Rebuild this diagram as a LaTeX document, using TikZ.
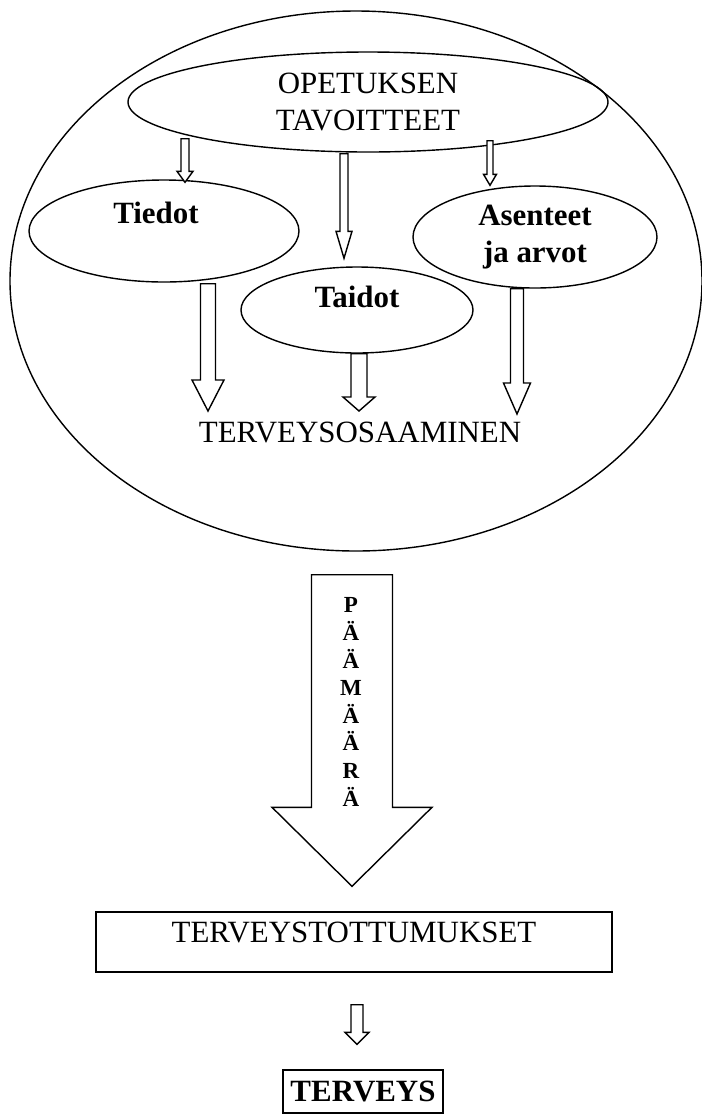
\documentclass[tikz,border=0pt]{standalone}
\usepackage{fontspec}
\setmainfont{Liberation Serif}
\usetikzlibrary{calc,shapes.geometric}

\tikzset{
  kehys/.style={draw,ellipse,inner sep=0pt,line width=0.8pt},
  laatikko/.style={draw,rectangle,inner sep=0pt,line width=0.8pt},
  iso/.style={font=\fontsize{17.6}{21}\selectfont,align=center,inner sep=0pt},
  lihava/.style={font=\bfseries\fontsize{17.6}{21}\selectfont,align=center,inner sep=0pt},
  nuoli/.style={draw,line width=0.8pt,fill=white,line join=miter},
}
% hollow block arrow: start, tip, half shaft, half head, head length
\newcommand{\blocknuoli}[5]{%
  \draw[nuoli] let \p1=#1, \p2=#2 in
    (\x1-#3,\y1) -- (\x1-#3,\y2+#5) -- (\x1-#4,\y2+#5) -- (\x1,\y2)
    -- (\x1+#4,\y2+#5) -- (\x1+#3,\y2+#5) -- (\x1+#3,\y1) -- cycle;}

\begin{document}
\begin{tikzpicture}
    \useasboundingbox (0,0) rectangle (14.02,-22.3);
    \node[kehys,minimum width=13.84cm,minimum height=10.8cm] (ulko) at (7.12,-5.62) {};
    \node[kehys,minimum width=9.6cm,minimum height=2cm,iso] (opet) at (7.36,-2.04) {OPETUKSEN\\TAVOITTEET};
    \node[kehys,minimum width=5.4cm,minimum height=2.04cm] (tiedot) at (3.28,-4.62) {};
    \node[lihava] (tiedotT) at ($(tiedot)+(-0.16,0.36)$) {Tiedot};
    \node[kehys,minimum width=4.64cm,minimum height=1.72cm] (taidot) at (7.14,-6.2) {};
    \node[lihava] (taidotT) at ($(taidot)+(0,0.26)$) {Taidot};
    \node[kehys,minimum width=4.88cm,minimum height=2.04cm,lihava,inner sep=0pt] (asenteet) at (10.7,-4.74) {Asenteet\\ja arvot};
    \node[iso] (osaam) at (7.2,-8.64) {TERVEYSOSAAMINEN};
    \node[laatikko,minimum width=10.32cm,minimum height=1.2cm] (tottum) at (7.08,-18.84) {};
    \node[iso] (tottumT) at ($(tottum)+(0,0.2)$) {TERVEYSTOTTUMUKSET};
    \node[laatikko,minimum width=3.2cm,minimum height=0.86cm,lihava] (terveys) at (7.26,-21.83) {TERVEYS};
    % nuolet
    \blocknuoli{($(opet.south)+(-3.66,0.28)$)}{($(tiedot.north)+(0.42,-0.06)$)}{0.08cm}{0.16cm}{0.22cm}
    \blocknuoli{($(opet.south)+(-0.48,-0.02)$)}{($(taidot.north)+(-0.26,0.16)$)}{0.08cm}{0.16cm}{0.54cm}
    \blocknuoli{($(opet.south)+(2.44,0.24)$)}{($(asenteet.north)+(-0.9,0)$)}{0.06cm}{0.13cm}{0.22cm}
    \blocknuoli{($(tiedot.south)+(0.88,-0.02)$)}{($(osaam)+(-3.04,0.42)$)}{0.15cm}{0.32cm}{0.62cm}
    \blocknuoli{($(taidot.south)+(0.04,0)$)}{($(osaam)+(-0.02,0.42)$)}{0.16cm}{0.32cm}{0.28cm}
    \blocknuoli{($(asenteet.south)+(-0.36,0)$)}{($(osaam)+(3.14,0.36)$)}{0.13cm}{0.27cm}{0.62cm}
    \blocknuoli{($(ulko.south)+(-0.08,-0.46)$)}{($(tottum.north)+(-0.04,0.5)$)}{0.81cm}{1.6cm}{1.58cm}
    \blocknuoli{($(tottum.south)+(0.06,-0.64)$)}{($(terveys.north)+(-0.12,0.5)$)}{0.12cm}{0.24cm}{0.24cm}
    \node[font=\bfseries\fontsize{13.1}{15.7}\selectfont,align=center,inner sep=0pt] (paamaara) at (7.02,-14.04) {P\\Ä\\Ä\\M\\Ä\\Ä\\R\\Ä};
\end{tikzpicture}
\end{document}
